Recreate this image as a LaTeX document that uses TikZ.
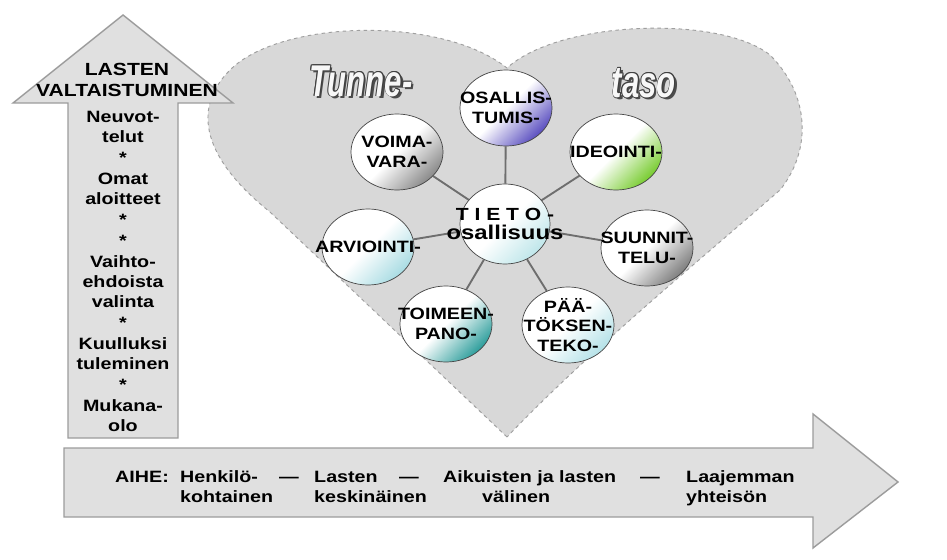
\documentclass[tikz,border=0pt]{standalone}
\usepackage{fontspec}
\usepackage{contour}
\usetikzlibrary{shapes.geometric}

\newfontfamily\widesans[FakeStretch=1.2]{Liberation Sans}
\newfontfamily\narrowsans[FakeStretch=0.7]{Liberation Sans}

\definecolor{arrowgray}{HTML}{E0E0E0}
\definecolor{heartgray}{HTML}{D8D8D8}
\definecolor{edgegray}{HTML}{9C9C9C}
\definecolor{spokegray}{HTML}{6E6E6E}
\definecolor{osalblue}{HTML}{5B4FC0}
\definecolor{voimagray}{HTML}{8A8A8A}
\definecolor{ideogreen}{HTML}{78CC30}
\definecolor{arvicyan}{HTML}{A9DCE3}
\definecolor{suungray}{HTML}{7F7F7F}
\definecolor{toimteal}{HTML}{2E9E9C}
\definecolor{paatcyan}{HTML}{B5E2E8}
\definecolor{tietocyan}{HTML}{BFE6EA}

\newcommand\labfont{\widesans\bfseries\fontsize{14}{17}\selectfont}
\newcommand\embossed[1]{\rlap{\kern1.8pt\raisebox{-1.8pt}{\textcolor{gray!60!black}{#1}}}\contour{gray!50!black}{#1}}
\contourlength{0.8pt}
\contournumber{8}

\pgfdeclarelayer{bg}
\pgfsetlayers{bg,main}

\begin{document}
\begin{tikzpicture}[x=0.03cm, y=-0.03cm,
  txt/.style={font=\labfont, inner sep=0pt},
  orb/.style={ellipse, draw=gray!55!black, line width=0.6pt, minimum width=2.76cm, minimum height=2.28cm, inner sep=0pt, top color=white, bottom color=#1, middle color=white, shading angle=45},
  orbtext/.style={align=center, font=\labfont, inner sep=0pt},
  spoke/.style={draw=spokegray, line width=1.6pt},
  bigarrow/.style={fill=arrowgray, draw=edgegray, line width=1.2pt, line join=miter},
  heartline/.style={fill=heartgray, draw=gray!75, dashed, line width=0.8pt},
  title/.style={font=\narrowsans\bfseries\itshape\fontsize{38}{40}\selectfont, text=gray!6}
]
  \useasboundingbox (0,0) rectangle (947,560);

  % heart
  \begin{pgfonlayer}{bg}
    \fill[white] (0,0) rectangle (947,560);
    \path[heartline] (507,437) -- (270,212)
      .. controls (205,160) and (190,110) .. (230,70)
      .. controls (280,20) and (440,15) .. (507,68)
      .. controls (560,20) and (720,15) .. (770,55)
      .. controls (810,95) and (812,150) .. (780,190)
      .. controls (700,260) and (590,350) .. (507,437) -- cycle;
  \end{pgfonlayer}

  % arrows
  \path[bigarrow] (123,15) -- (233,103) -- (178,103) -- (178,438) -- (68,438) -- (68,103) -- (13,103) -- cycle;
  \path[bigarrow] (64,448) -- (813,448) -- (813,414) -- (898,482) -- (813,548) -- (813,517) -- (64,517) -- cycle;

  % up arrow texts
  \node[txt, align=center, font=\widesans\bfseries\fontsize{15}{18}\selectfont] (rise) at (127,80) {LASTEN\\VALTAISTUMINEN};
  \node[txt, align=center, anchor=north] (steps) at (123,111)
    {Neuvot-\\telut\\[1pt]*\\[1pt]Omat\\aloitteet\\[1pt]*\\[1pt]*\\[1pt]Vaihto-\\ehdoista\\valinta\\[1pt]*\\[1pt]Kuulluksi\\tuleminen\\[1pt]*\\[1pt]Mukana-\\olo};

  % right arrow texts
  \node[txt, anchor=base west] (aihe) at (115,482) {AIHE:};
  \node[txt, anchor=base west, align=left] (henk) at (180,502) {Henkilö-\\kohtainen};
  \node[txt, anchor=base west] (dashA) at (279,482) {—};
  \node[txt, anchor=base west, align=left] (lasten) at (314,502) {Lasten\\keskinäinen};
  \node[txt, anchor=base west] (dashB) at (399,482) {—};
  \node[txt, anchor=base west, align=left] (aikuis) at (443,502) {Aikuisten ja lasten\\\hspace*{1.17cm}välinen};
  \node[txt, anchor=base west] (dashC) at (640,482) {—};
  \node[txt, anchor=base west, align=left] (laaj) at (686,502) {Laajemman\\yhteisön};

  % titles
  \node[title] (tunne) at (361,82) {\embossed{Tunne-}};
  \node[title] (taso) at (644,84) {\embossed{taso}};

  % orbs
  \node[orb=tietocyan, minimum width=2.7cm, minimum height=2.4cm,
    label={[orbtext]center:{\fontsize{15}{22}\selectfont T I E T O -}\\{\fontsize{17}{22}\selectfont osallisuus}}] (tieto) at (505,224) {};
  \node[orb=osalblue, label={[orbtext]center:OSALLIS-\\TUMIS-}] (osal) at (506,108) {};
  \node[orb=voimagray, label={[orbtext]center:VOIMA-\\VARA-}] (voima) at (397,152) {};
  \node[orb=ideogreen, label={[orbtext]center:IDEOINTI-}] (ideo) at (616,152) {};
  \node[orb=arvicyan, label={[orbtext]center:ARVIOINTI-}] (arvi) at (368,247) {};
  \node[orb=suungray, label={[orbtext]center:SUUNNIT-\\TELU-}] (suun) at (647,248) {};
  \node[orb=toimteal, label={[orbtext]center:TOIMEEN-\\PANO-}] (toim) at (446,324) {};
  \node[orb=paatcyan, label={[orbtext]center:PÄÄ-\\TÖKSEN-\\TEKO-}] (paat) at (568,325) {};

  % spokes
  \begin{pgfonlayer}{bg}
    \draw[spoke] (tieto) -- (osal);
    \draw[spoke] (tieto) -- (voima);
    \draw[spoke] (tieto) -- (ideo);
    \draw[spoke] (tieto) -- (arvi);
    \draw[spoke] (tieto) -- (suun);
    \draw[spoke] (tieto) -- (toim);
    \draw[spoke] (tieto) -- (paat);
  \end{pgfonlayer}
\end{tikzpicture}
\end{document}
